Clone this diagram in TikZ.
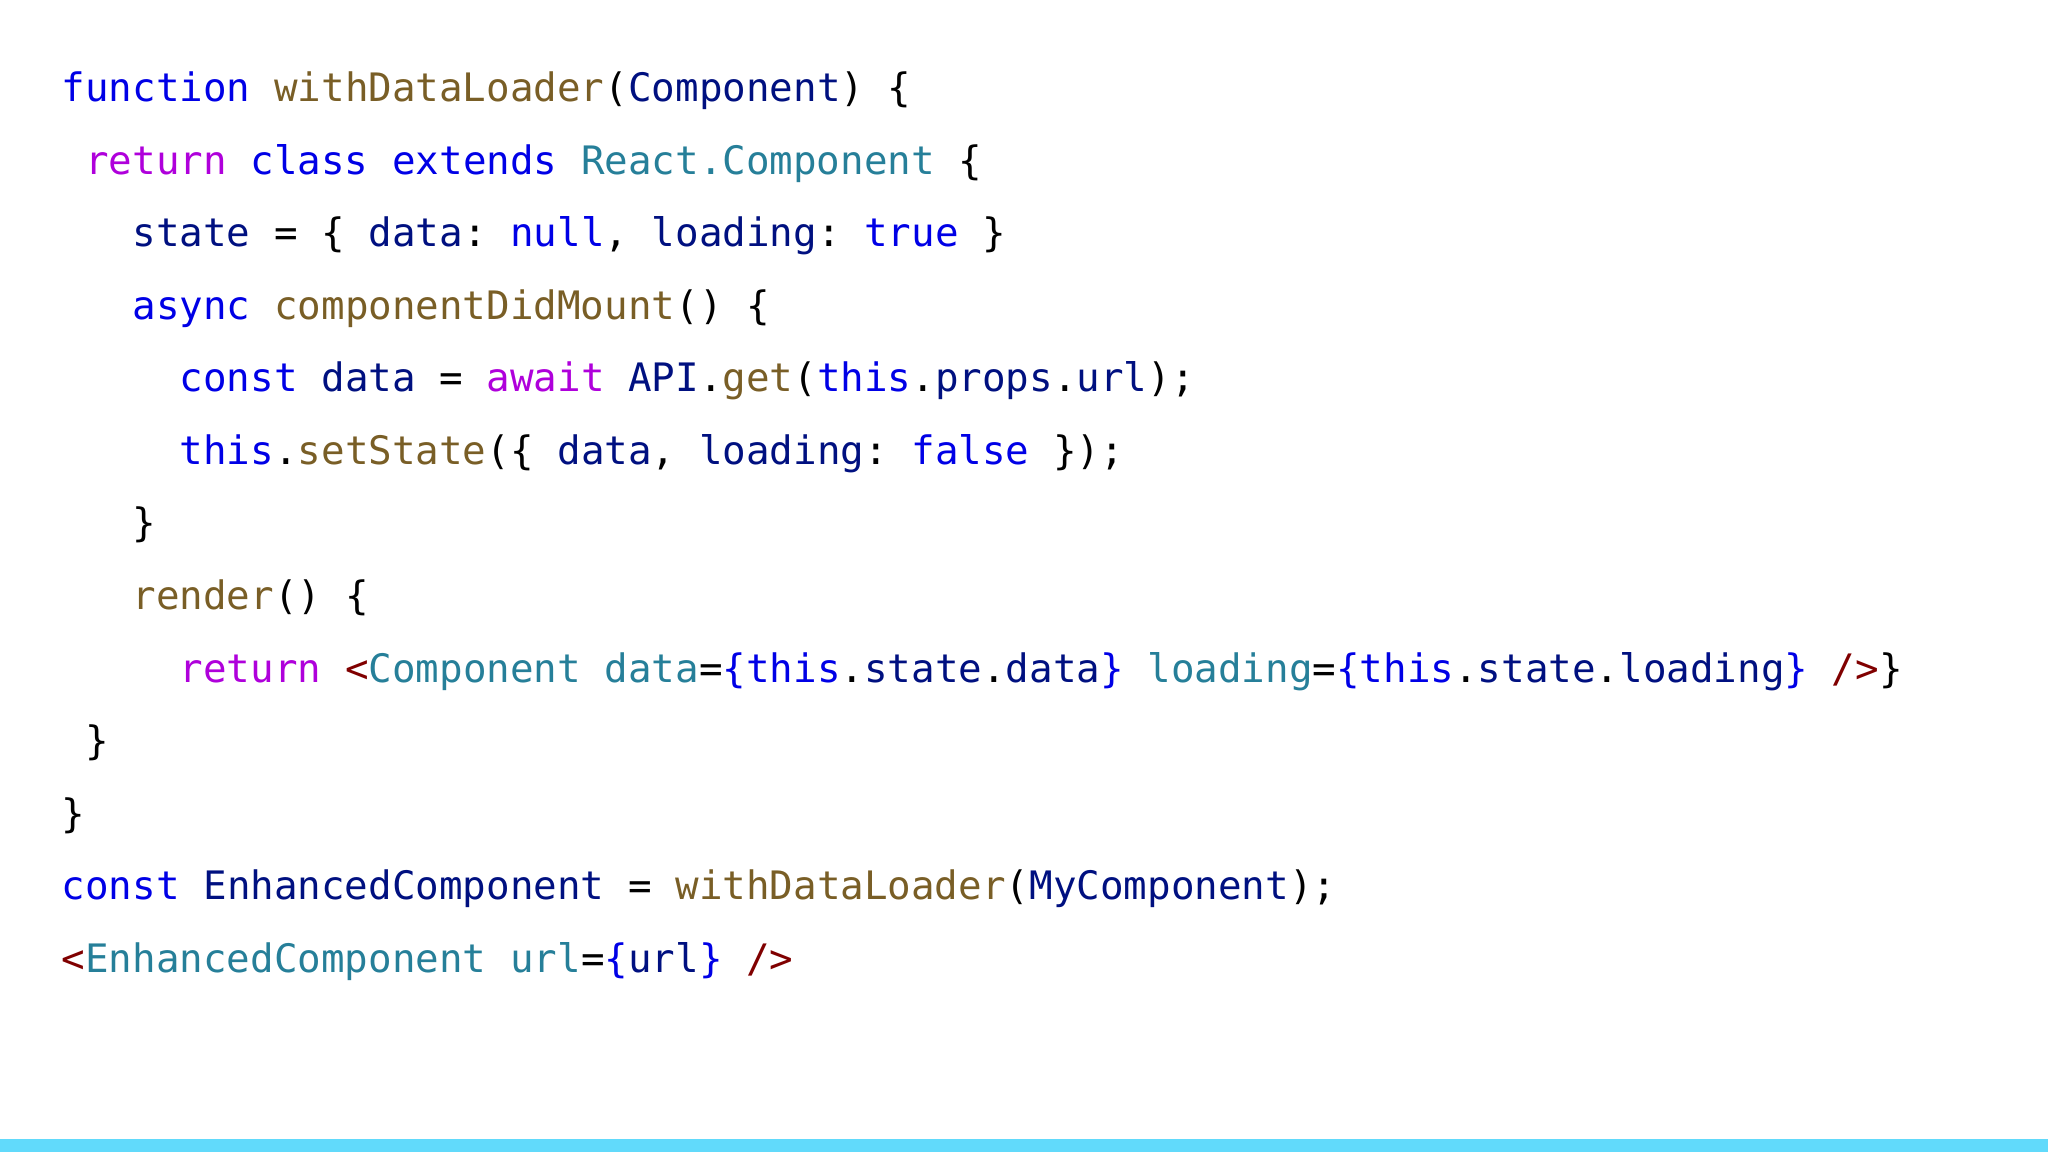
\documentclass[tikz,border=0pt]{standalone}
\usepackage{fontspec}
\setmonofont{DejaVu Sans Mono}
\definecolor{kw}{RGB}{0,0,230}
\definecolor{nv}{RGB}{0,16,128}
\definecolor{mg}{RGB}{175,0,219}
\definecolor{fn}{RGB}{121,94,38}
\definecolor{tl}{RGB}{38,127,153}
\definecolor{tg}{RGB}{128,0,0}
\definecolor{bar}{RGB}{97,218,251}
\newcommand\K[1]{\textcolor{kw}{#1}}
\newcommand\N[1]{\textcolor{nv}{#1}}
\newcommand\M[1]{\textcolor{mg}{#1}}
\newcommand\F[1]{\textcolor{fn}{#1}}
\newcommand\T[1]{\textcolor{tl}{#1}}
\newcommand\G[1]{\textcolor{tg}{#1}}
\tikzset{code/.style={anchor=base west,inner sep=0pt,font=\ttfamily\fontsize{19.6}{20}\selectfont}}
\begin{document}
\begin{tikzpicture}[x=1pt,y=1pt]
\useasboundingbox (0,0) rectangle (1024,576);
\fill[bar] (0,0) rectangle (1024,6.5);
\def\cw{11.8}
\def\lh{36.25}
\def\bx{30.7}
\def\by{525}
\node[code] (l1) at (\bx,\by) {\K{function} \F{withDataLoader}(\N{Component}) \{};
\node[code] (l2) at (\bx+1*\cw,\by-1*\lh) {\M{return} \K{class} \K{extends} \T{React.Component} \{};
\node[code] (l3) at (\bx+3*\cw,\by-2*\lh) {\N{state} = \{ \N{data}: \K{null}, \N{loading}: \K{true} \}};
\node[code] (l4) at (\bx+3*\cw,\by-3*\lh) {\K{async} \F{componentDidMount}() \{};
\node[code] (l5) at (\bx+5*\cw,\by-4*\lh) {\K{const} \N{data} = \M{await} \N{API}.\F{get}(\K{this}.\N{props}.\N{url});};
\node[code] (l6) at (\bx+5*\cw,\by-5*\lh) {\K{this}.\F{setState}(\{ \N{data}, \N{loading}: \K{false} \});};
\node[code] (l7) at (\bx+3*\cw,\by-6*\lh) {\}};
\node[code] (l8) at (\bx+3*\cw,\by-7*\lh) {\F{render}() \{};
\node[code] (l9) at (\bx+5*\cw,\by-8*\lh) {\M{return} \G{<}\T{Component} \T{data}=\K{\{this}.\N{state}.\N{data}\K{\}} \T{loading}=\K{\{this}.\N{state}.\N{loading}\K{\}} \G{/>}\}};
\node[code] (l10) at (\bx+1*\cw,\by-9*\lh) {\}};
\node[code] (l11) at (\bx,\by-10*\lh) {\}};
\node[code] (l12) at (\bx,\by-11*\lh) {\K{const} \N{EnhancedComponent} = \F{withDataLoader}(\N{MyComponent});};
\node[code] (l13) at (\bx,\by-12*\lh) {\G{<}\T{EnhancedComponent} \T{url}=\K{\{}\N{url}\K{\}} \G{/>}};
\end{tikzpicture}
\end{document}
